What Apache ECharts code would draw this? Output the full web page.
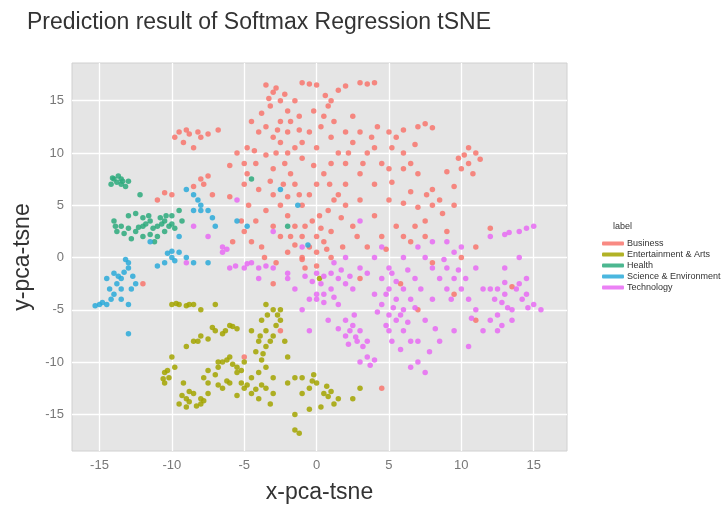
<!DOCTYPE html>
<html><head><meta charset="utf-8">
<script src="https://cdn.jsdelivr.net/npm/echarts@6/dist/echarts.min.js"></script>
<style>html,body{margin:0;padding:0;background:#fff}#c{width:728px;height:509px}</style>
</head><body><div id="c"></div>
<script>
const labels = ['Business', 'Entertainment & Arts', 'Health', 'Science & Environment', 'Technology'];
const colors = ['#F8766D', '#A3A500', '#2DAA7C', '#2CAAD9', '#E76BF3'];
const xTicks = [-15, -10, -5, 0, 5, 10, 15];
const yTicks = [-15, -10, -5, 0, 5, 10, 15];

const business = [[-3.5,16.5],[-3,15.8],[-2.8,16.2],[-2.5,15],[-3.2,14.5],[-2,14],[-1.5,15],[-1,16.7],[-0.5,16.6],[0,16.5],
[1,15],[1.5,16],[2,16.4],[3,16.7],[3.5,16.6],[4,16.7],[0.5,13.5],[0.8,14.5],[0.3,12.5],[1,11.5],
[-4.5,13],[-4,12],[-3.5,12.5],[-3,11.5],[-2.5,11],[-2,12],[-1.5,10.5],[-1,11],[-2.2,9],[-1.8,8],[-3,8.5],[-4.2,9],[-4.8,10.5],
[-9.5,12],[-9,12.2],[-8.8,11.8],[-8,11.5],[-7.5,11.8],[-9.2,11],[-8.5,10.5],[-8,7.5],[-7.5,7.8],[-7.8,7],[-10,6],[-10.5,6.2],
[-5,9],[-4.8,8],[-5,7],[-4.7,5],[-5.2,3.5],[-5,2.5],[-4.5,1.5],[-6,8.8],[-5.5,10],
[-3,6],[-2.5,5],[-2,4],[-1.5,3],[-1,2],[-0.5,1],[0,0.5],[0.5,1.5],[1,2.5],[-1,5],[-0.5,6],[0,7],[0.5,8],[1,9],[-1.5,7],[-2.5,2],[-3,3],
[-2,0.5],[-1,0],[0,2],[1,0],[-0.3,3.5],[0.8,4.5],[1.5,6],[2,7],[-3.5,4.5],[-4,6.5],[-3.8,1],[-2.8,-0.5],[0,-0.8],[-1.5,1.2],[0.3,2.8],[-0.8,-1],
[-2,10],[-1,9.5],[-0.5,12],[-1.2,13.5],[-2.5,13],[0,10.5],[1.5,10],[2,12],[2.5,13.5],
[5,12],[5.5,11.5],[6,12.2],[7,12.5],[7.5,12.8],[8,12.4],[4,10.5],[3.5,10],[4.5,9],[5,8.5],[3,12],[2.5,11],[2,9],[3,8],
[6,10],[6.5,9],[6,8.5],[7,8],[10,8.5],[10.5,9],[11,10],[10.5,10.5],[9.8,9.5],[10.2,9.8],
[2,5],[3,5.5],[4,4],[5,5.5],[6,5.2],[7,4.8],[8,5],[5.5,3],[6,2],[6.5,1.5],[8.5,5.5],[9,2.5],[10,0],[11,1],[4.5,2],[3.5,1],[2.5,3],[7.5,3.5],[8,6.5],[9.5,6.8],
[-12,-2.5],[3,-2],[11,-6],[7,-5],[-2.5,-7],[-5,-9.5],[4.5,-12.5],[9.5,-3.5],[13.5,-2.8],[-8.5,6.8],
[-3.3,15.2],[-2.2,15.6],[-1.8,13],[-3.8,13.8],[-2.7,12.2],[-1.2,12.2],[0.6,15.5],[1.2,13],[-0.2,14],[-4.3,10.2],[-3.5,9.8],[-2.8,10],
[-2.3,7],[-1.2,6],[-0.8,3],[0.2,4],[1.2,5.5],[-2,5.8],[-3.2,7.3],[-1.8,2],[-0.2,8.8],[0.9,7],[1.7,3.8],[-4.2,3.5],[-3.6,0],[-1,-0.2],[0.7,0.8],
[2.2,10],[3.8,11.5],[4.2,12.5],[5.2,10.5],[6.8,10.8],[3.2,9],[4,7],[5.2,7.2],[6.5,6.3],[7.6,6],[9,8.2],[10.8,8],[11.3,9.4],[9.5,5],[8.7,4.2],[6.8,3],[7.5,2],[4.8,0.8],[2.8,2],[1.8,1],
[-9.8,11.5],[-8.2,12],[-6.8,12.2],[-7.2,6],[-6,5.8],[-11,5.5],[-5.8,1.5],[-3,-2.5],[12,2.8],[8,-0.5],[5.8,-2.5]];

const entertainment = [[-10,-4.5],[-9.5,-4.5],[-9,-4.6],[-8.5,-4.5],[-8,-5],[-7,-4.5],
[-10.5,-11],[-10.5,-12],[-10.2,-11.5],[-9.8,-10.5],[-9,-8.5],[-8.5,-8],[-8,-7.5],[-7,-7],[-6,-6.5],[-5.5,-6.8],[-6.5,-7.3],[-7.5,-7.8],
[-6.5,-10],[-6,-9.5],[-5.5,-10.5],[-5,-10],[-5.5,-11],[-7,-11.2],[-7.5,-10.8],[-4.5,-11.5],[-6.8,-10.5],[-6.2,-11.8],
[-9.5,-14],[-9,-13.5],[-8.5,-13],[-8,-13.5],[-9,-14.3],[-8,-14],[-7.5,-13],[-8.8,-12.8],
[-7.5,-12],[-6.5,-12.5],[-6,-12],[-5,-12.5],[-4.5,-13],[-4,-13.5],[-3.5,-12.5],[-3,-13],[-4,-11],[-3.5,-10.5],[-3,-11.5],[-5.5,-13.2],[-3.2,-14],
[-3.5,-4.5],[-3,-5],[-3.8,-6],[-3.5,-7],[-4,-8],[-3.5,-8.5],[-4.2,-9],[-3,-7.5],[-2.5,-6],[-2.5,-5],[-2.8,-6.5],[-2.2,-8],[-3.8,-9.8],[-4.5,-7],[-2,-9.5],
[-1,-11.5],[0,-12],[-0.5,-12.5],[0.5,-13],[1,-12.8],[0.3,-14.3],[-0.5,-14.5],[1.5,-13.5],[2.5,-13.5],[3,-12.5],[-0.2,-11.2],
[-1.5,-15],[-1.5,-16.5],[-1.2,-16.8],[-1.5,-11.5],[-2,-12],[-1,-13],[-9.2,-12],[-10,-9.5],[0.2,-2],
[-9.7,-4.4],[-8.8,-4.5],[-7.2,-6.7],[-8.2,-8],[-6.8,-10],[-6.2,-9.8],[-5.8,-10.2],[-5.2,-10.8],[-7.8,-11.5],[-6.8,-12.2],[-5.2,-12],[-4.8,-12.2],
[-4.2,-12.6],[-3.8,-12.2],[-8.8,-13.8],[-8.3,-14.2],[-7.8,-13.7],[-9.3,-13.2],[-3.4,-5.5],[-3.9,-7.5],[-3.2,-8],[-3.7,-9.2],[-2.7,-5.5],
[-0.3,-11.8],[0.7,-12.3],[0.8,-13.3],[-10.3,-10.8],[-10.6,-11.6],[-5.8,-6.6],[-6.3,-7],[1.2,-14]];

const health = [[-14,7.5],[-13.8,7.2],[-13.5,7.5],[-13.5,7],[-13,7.3],[-14.2,7],[-13.2,6.8],[-13.7,7.8],
[-14,3.5],[-13.5,3],[-13,2.8],[-12.5,2.5],[-12,3],[-11.5,3.5],[-11,3],[-10.5,3.5],[-10,3.2],[-10.5,2.5],[-11,2],[-12,2],
[-13,4],[-12.5,4.2],[-11.5,2.2],[-10,4],[-9.5,4.5],[-12,3.8],[-11.8,3.2],[-10.8,3.8],[-10.2,3],[-9.8,2.8],[-13.8,2.5],[-12.8,1.8],[-11.2,1.5],[-9.3,3.5],
[-12.2,6],[-4.5,7.5],[-2,3],[-13.9,3],[-13.3,2.3],[-12.3,2.9],[-11.3,2.8],[-10.7,3.2],[-10.4,4],[-13.4,7.3],[-14.1,7.6],[-11.6,4]];

const science = [[-14.5,-2],[-14,-1.5],[-13.5,-2],[-13,-1],[-13.5,-3],[-14,-3.5],[-14.5,-4.5],[-15,-4.5],[-15.3,-4.6],[-13.5,-4],[-13,-4.5],
[-12.5,-2.5],[-12.8,-3],[-13.2,-0.2],[-13,-0.5],[-13.8,-2.5],[-14.2,-4],
[-10,0],[-9.5,0.5],[-10.5,-0.5],[-9,0],[-8.5,-0.5],[-7.5,-0.5],[-11,-0.8],[-9.8,-0.3],[-10.3,0.4],
[-8.5,6],[-8.2,5.5],[-8,5],[-7.5,4.5],[-7.2,3.8],[-8,4.5],[-8.5,4.5],[-7,3],[-9,6.5],[-5.5,3.5],
[-13,-7.3],[-2.5,6.5],[-4.8,3],[-1.3,5],[-11.5,1.5],[-9.5,2],[-0.6,1.2],[-13.7,-1.8],[-14.3,-3],[-13.3,-1.4],[-12.7,-1.8],[-14.8,-4.3],[-10,0.6]];

const technology = [[-6.5,1],[-6.2,0.8],[-6.5,0.5],[-5,-1],[-4.5,-0.5],[-4,-1],[-3,-1],[-2,-1.5],[-3.5,-0.8],[-7.5,2],[-9,-0.5],[-6,-1],
[0,-1.5],[0.5,-1.8],[1,-1.5],[1.5,-2],[1,-3],[0.5,-3.5],[2,-2.5],[2.5,-3],[0,-3.5],[0,-4],[0.5,-4.3],[-0.5,-4],
[2,-6],[2.5,-6.5],[3,-7],[2.8,-8],[2,-7.5],[3.2,-8.5],[1.5,-6.8],[3,-10],[3.5,-9.5],[4,-9.8],[2.6,-5.5],
[4.5,-2],[5,-3],[5.5,-4],[6,-5],[5,-5.5],[4.5,-4.5],[6,-3],[6.5,-4],[5.5,-6],[6,-7],[5,-7],[6.5,-8],[4,-3.5],[5.2,-1.5],[6.8,-2],[4.8,-6.5],[5.8,-8.8],
[7,-8],[7,-10],[7.5,-11],[8,-1],[8.5,-2],[9,-1],[9.5,-2],[10,-3],[9,-3],[10,1],[9.5,0.5],[9,1.5],[10.5,-4],[11,-5],[8,-4],[7.5,-6],
[12,-3],[12.5,-3],[13,-3.5],[14,-2.5],[14.5,-3.5],[13.5,-5],[12.5,-5.5],[12,-6],[12.5,-7],[13.5,-6],[14.2,-4],[14.5,-2],[15,-4.5],[15.5,-5],
[12,2],[13,2.2],[14,2.5],[14.5,2.8],[15,3],[13,-1],[14,0],[11.5,-3],[11,-1],[12.8,-4.3],[11.5,-7],
[-1,-5],[-0.5,-7],[2,0],[3,-1],[4,0],[5,-1],[6,0],[7,1],[7.5,0],[8,1.5],[-3,2.5],[-1,1],[-1.5,-3],[-2,-2],[3.5,-1.5],[1.5,-4.5],
[8.5,-8],[10.5,-8.5],[9.5,-7],[3,3.5],[-5.5,5.5],[-8.5,3],[-4,-2],[1.2,-0.5],
[0.3,-2.5],[1.7,-1.2],[2.3,-1.8],[1.2,-3.8],[-0.3,-2.3],[2.3,-7],[2.7,-7.6],[3.5,-8],[2.2,-8.3],[4.8,-3.5],[5.3,-4.8],[5.8,-5.5],[6.3,-6.2],
[5.5,-2.3],[6.3,-1.2],[4.2,-5.2],[5.2,-8],[6.8,-4.8],[7.2,-3],[8.8,-0.2],[9.8,-1.2],[10.3,-2],[9.3,-4],[10.7,-5.8],[12.3,-4],[13.2,-4.8],
[13.8,-3],[14.6,-4.8],[12.8,-6.5],[13,-2.4],[13.3,2.4],[7.8,-9],[6.5,-10.5],[3.7,-10.3],[0.8,-6],[-0.8,-1.8],[-4.8,-0.6],[-5.6,-0.8],[4.5,1],[8.2,-6.8]];

const seriesData = [business, entertainment, health, science, technology];

const chart = echarts.init(document.getElementById('c'));
chart.setOption({
  animation: false,
  backgroundColor: '#fff',
  title: {text: 'Prediction result of Softmax Regression tSNE', left: 22, top: 6,
    textStyle: {fontFamily: 'Liberation Sans', fontSize: 23, fontWeight: 'normal', color: '#333'}},
  graphic: [{type: 'text', left: 613, top: 222, style: {text: 'label', fontSize: 9, fill: '#333', fontFamily: 'Liberation Sans'}}],
  legend: {orient: 'vertical', left: 597, top: 234, itemGap: 2, itemWidth: 22, itemHeight: 4, icon: 'roundRect',
    textStyle: {fontSize: 9, color: '#333', fontFamily: 'Liberation Sans', padding: [0,0,0,-2]}, data: labels},
  grid: {left: 72, right: 161, top: 63, bottom: 56, show: true, backgroundColor: '#E5E5E5', borderColor: '#d0d0d0', borderWidth: 1},
  xAxis: {type: 'value', min: -16.9, max: 17.3, name: 'x-pca-tsne', nameLocation: 'middle', nameGap: 30,
    nameTextStyle: {fontSize: 23, color: '#333', fontFamily: 'Liberation Sans'},
    axisLine: {show: false}, axisTick: {show: false, customValues: xTicks},
    axisLabel: {customValues: xTicks, color: '#777', fontSize: 13, fontFamily: 'Liberation Sans'},
    splitLine: {show: true, lineStyle: {color: '#fff', width: 1.3}}},
  yAxis: {type: 'value', min: -18.5, max: 18.6, name: 'y-pca-tsne', nameLocation: 'middle', nameGap: 38,
    nameTextStyle: {fontSize: 23, color: '#333', fontFamily: 'Liberation Sans'},
    axisLine: {show: false}, axisTick: {show: false, customValues: yTicks},
    axisLabel: {customValues: yTicks, color: '#777', fontSize: 13, fontFamily: 'Liberation Sans'},
    splitLine: {show: true, lineStyle: {color: '#fff', width: 1.3}}},
  series: seriesData.map((d, i) => ({
    name: labels[i], type: 'scatter', data: d, symbolSize: 5.5,
    itemStyle: {color: colors[i], opacity: 0.85}
  }))
});
</script></body></html>
